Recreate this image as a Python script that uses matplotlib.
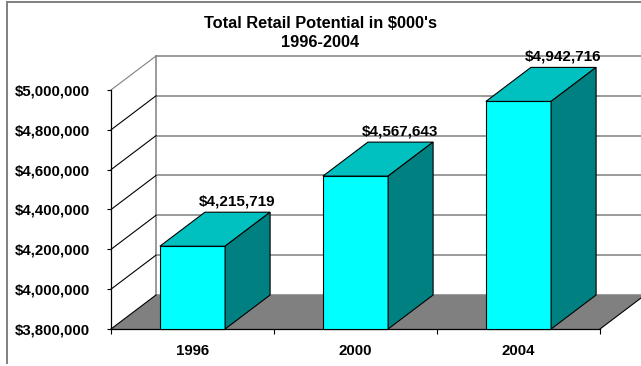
import matplotlib
matplotlib.use("Agg")
import matplotlib.pyplot as plt
from matplotlib.patches import Polygon
from matplotlib.lines import Line2D
from matplotlib.ticker import FuncFormatter
import numpy as np

plt.rcParams['font.family'] = ['Liberation Sans', 'DejaVu Sans']

# Data
years = ['1996', '2000', '2004']
potential = [4215719, 4567643, 4942716]
value_ticks = [3800000, 4000000, 4200000, 4400000, 4600000, 4800000, 5000000]
title_lines = ["Total Retail Potential in $000's", "1996-2004"]

# Layout (pixels)
W, H = 641, 366
DPI = 100
front_left, front_right = 111, 600
front_top, front_bottom = 90, 329
depth_px = (45, 34)
bar_frac = 0.4

front_col = '#00FFFF'
top_col = '#00C0C0'
side_col = '#008080'
floor_col = '#808080'
grid_col = '#808080'

fig = plt.figure(figsize=(W / DPI, H / DPI), dpi=DPI)
fig.patch.set_facecolor('white')

ax = fig.add_axes([front_left / W, (H - front_bottom) / H,
                   (front_right - front_left) / W, (front_bottom - front_top) / H])
n = len(years)
vmin, vmax = value_ticks[0], value_ticks[-1]
ax.set_xlim(0, n)
ax.set_ylim(vmin, vmax)
ax.patch.set_visible(False)

# depth offset expressed in data units
px_per_x = (front_right - front_left) / n
px_per_v = (front_bottom - front_top) / (vmax - vmin)
ddx = depth_px[0] / px_per_x
ddv = depth_px[1] / px_per_v

def poly(pts, fc, ec='none', lw=0.0, z=1):
    p = Polygon(pts, closed=True, facecolor=fc, edgecolor=ec, linewidth=lw,
                zorder=z, clip_on=False, joinstyle='miter')
    ax.add_patch(p)

def line(xs, ys, color, lw, z=1.5):
    ax.add_line(Line2D(xs, ys, color=color, linewidth=lw, zorder=z, clip_on=False))

# Floor
poly([(0, vmin), (n, vmin), (n + ddx, vmin + ddv), (ddx, vmin + ddv)], floor_col, z=1)

# Back wall gridlines and left wall lines
for v in value_ticks:
    line([ddx, n + ddx], [v + ddv, v + ddv], grid_col, 1.1, z=1.2)
    line([0, ddx], [v, v + ddv], grid_col if v == vmax else 'black', 0.8, z=1.3)
line([ddx, ddx], [vmin + ddv, vmax + ddv], grid_col, 1.1, z=1.2)
line([n, n + ddx], [vmin, vmin + ddv], 'black', 0.8, z=1.3)

# Bars
for i, v in enumerate(potential):
    c = i + 0.5
    x0, x1 = c - bar_frac / 2, c + bar_frac / 2
    poly([(x0, vmin), (x1, vmin), (x1, v), (x0, v)], front_col, 'black', 0.8, z=3)
    poly([(x0, v), (x1, v), (x1 + ddx, v + ddv), (x0 + ddx, v + ddv)], top_col, 'black', 0.8, z=3)
    poly([(x1, vmin), (x1, v), (x1 + ddx, v + ddv), (x1 + ddx, vmin + ddv)], side_col, 'black', 0.8, z=3)
    ax.annotate(f"${v:,}", xy=(c + ddx, v + ddv), xytext=(0, 10.6 * 72 / DPI),
                textcoords='offset points', ha='center', va='center',
                fontsize=11, fontweight='bold', zorder=4, annotation_clip=False)

# Axes
for s in ['top', 'right']:
    ax.spines[s].set_visible(False)
for s in ['left', 'bottom']:
    ax.spines[s].set_color('black')
    ax.spines[s].set_linewidth(0.9)

ax.set_yticks(value_ticks)
ax.yaxis.set_major_formatter(FuncFormatter(lambda v, p: f"${int(v):,}"))
ax.tick_params(axis='y', direction='out', length=3, width=0.8, pad=12,
               labelsize=10.8)
for lab in ax.get_yticklabels():
    lab.set_fontweight('bold')

ax.set_xticks(np.arange(n) + 0.5)
ax.set_xticklabels(years, fontweight='bold', fontsize=10.8)
ax.set_xticks(np.arange(n + 1), minor=True)
ax.tick_params(axis='x', which='major', length=0, pad=11)
ax.tick_params(axis='x', which='minor', direction='out', length=3.6, width=0.8)

# Title
fig.text(320 / W, 1 - 28 / H, title_lines[0], ha='center', va='baseline',
         fontsize=11.8, fontweight='bold')
fig.text(320 / W, 1 - 46.7 / H, title_lines[1], ha='center', va='baseline',
         fontsize=11.8, fontweight='bold')

# Chart border
fig.add_artist(Line2D([7 / W, 7 / W], [1 - 2 / H, 1 - 363 / H],
                      color='#808080', linewidth=1.4, transform=fig.transFigure))
fig.add_artist(Line2D([7 / W, 1.0], [1 - 2 / H, 1 - 2 / H],
                      color='#808080', linewidth=1.4, transform=fig.transFigure))

fig.savefig('out.png', dpi=DPI, facecolor='white')
